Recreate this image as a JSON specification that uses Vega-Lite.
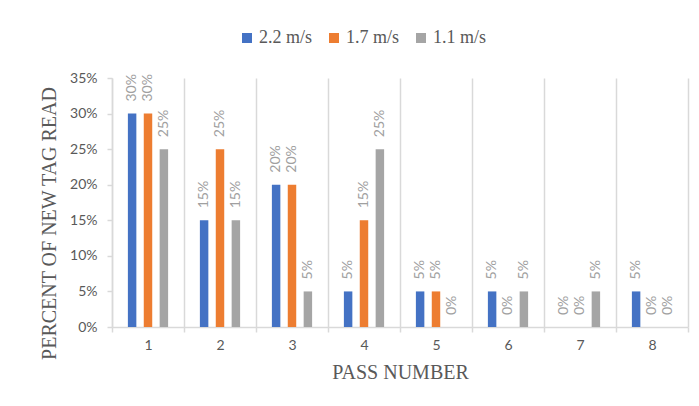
{
  "$schema": "https://vega.github.io/schema/vega-lite/v6.json",
  "autosize": {"type": "none"},
  "padding": {"left": 112, "top": 78, "right": 11, "bottom": 79},
  "width": 576,
  "height": 249,
  "background": "white",
  "config": {
    "view": {"stroke": null},
    "axis": {
      "domainColor": "#d9d9d9",
      "tickColor": "#d9d9d9",
      "gridColor": "#d9d9d9",
      "domainWidth": 1.5,
      "tickWidth": 1.5,
      "gridWidth": 1.5,
      "labelFont": "Lato",
      "labelFontSize": 14,
      "labelColor": "#595959",
      "titleFont": "Liberation Serif",
      "titleFontSize": 20,
      "titleFontWeight": "normal",
      "titleColor": "#595959"
    }
  },
  "data": {
    "values": [
      {"pass": "1", "speed": "2.2 m/s", "pct": 0.30},
      {"pass": "1", "speed": "1.7 m/s", "pct": 0.30},
      {"pass": "1", "speed": "1.1 m/s", "pct": 0.25},
      {"pass": "2", "speed": "2.2 m/s", "pct": 0.15},
      {"pass": "2", "speed": "1.7 m/s", "pct": 0.25},
      {"pass": "2", "speed": "1.1 m/s", "pct": 0.15},
      {"pass": "3", "speed": "2.2 m/s", "pct": 0.20},
      {"pass": "3", "speed": "1.7 m/s", "pct": 0.20},
      {"pass": "3", "speed": "1.1 m/s", "pct": 0.05},
      {"pass": "4", "speed": "2.2 m/s", "pct": 0.05},
      {"pass": "4", "speed": "1.7 m/s", "pct": 0.15},
      {"pass": "4", "speed": "1.1 m/s", "pct": 0.25},
      {"pass": "5", "speed": "2.2 m/s", "pct": 0.05},
      {"pass": "5", "speed": "1.7 m/s", "pct": 0.05},
      {"pass": "5", "speed": "1.1 m/s", "pct": 0.00},
      {"pass": "6", "speed": "2.2 m/s", "pct": 0.05},
      {"pass": "6", "speed": "1.7 m/s", "pct": 0.00},
      {"pass": "6", "speed": "1.1 m/s", "pct": 0.05},
      {"pass": "7", "speed": "2.2 m/s", "pct": 0.00},
      {"pass": "7", "speed": "1.7 m/s", "pct": 0.00},
      {"pass": "7", "speed": "1.1 m/s", "pct": 0.05},
      {"pass": "8", "speed": "2.2 m/s", "pct": 0.05},
      {"pass": "8", "speed": "1.7 m/s", "pct": 0.00},
      {"pass": "8", "speed": "1.1 m/s", "pct": 0.00}
    ]
  },
  "encoding": {
    "x": {
      "field": "pass",
      "type": "ordinal",
      "scale": {"paddingInner": 0, "paddingOuter": 0},
      "axis": {
        "title": "PASS NUMBER",
        "labelAngle": 0,
        "grid": true,
        "tickBand": "extent",
        "tickSize": 5,
        "labelPadding": 6,
        "titlePadding": 10
      }
    },
    "xOffset": {
      "field": "speed",
      "type": "nominal",
      "sort": ["2.2 m/s", "1.7 m/s", "1.1 m/s"],
      "scale": {"paddingInner": 0.467, "paddingOuter": 1.133}
    },
    "y": {
      "field": "pct",
      "type": "quantitative",
      "scale": {"domain": [0, 0.35], "nice": false},
      "axis": {
        "title": "PERCENT OF NEW TAG READ",
        "format": ".0%",
        "values": [0, 0.05, 0.1, 0.15, 0.2, 0.25, 0.3, 0.35],
        "grid": false,
        "tickSize": 5,
        "labelPadding": 10,
        "titlePadding": 10,
        "titleY": 145
      }
    }
  },
  "layer": [
    {
      "mark": {"type": "bar"},
      "encoding": {
        "color": {
          "field": "speed",
          "type": "nominal",
          "sort": ["2.2 m/s", "1.7 m/s", "1.1 m/s"],
          "scale": {
            "domain": ["2.2 m/s", "1.7 m/s", "1.1 m/s"],
            "range": ["#4472c4", "#ed7d31", "#a5a5a5"]
          },
          "legend": {
            "title": null,
            "orient": "none",
            "direction": "horizontal",
            "legendX": 126,
            "legendY": -49,
            "symbolType": "square",
            "symbolSize": 100,
            "symbolStrokeWidth": 0,
            "labelFont": "Liberation Serif",
            "labelFontSize": 18,
            "labelColor": "#595959",
            "labelOffset": 3,
            "columnPadding": 12
          }
        }
      }
    },
    {
      "mark": {
        "type": "text",
        "angle": 270,
        "align": "left",
        "baseline": "middle",
        "dx": 12,
        "font": "Lato",
        "fontSize": 14,
        "color": "#a0a0a0"
      },
      "encoding": {
        "text": {"field": "pct", "type": "quantitative", "format": ".0%"}
      }
    }
  ]
}
